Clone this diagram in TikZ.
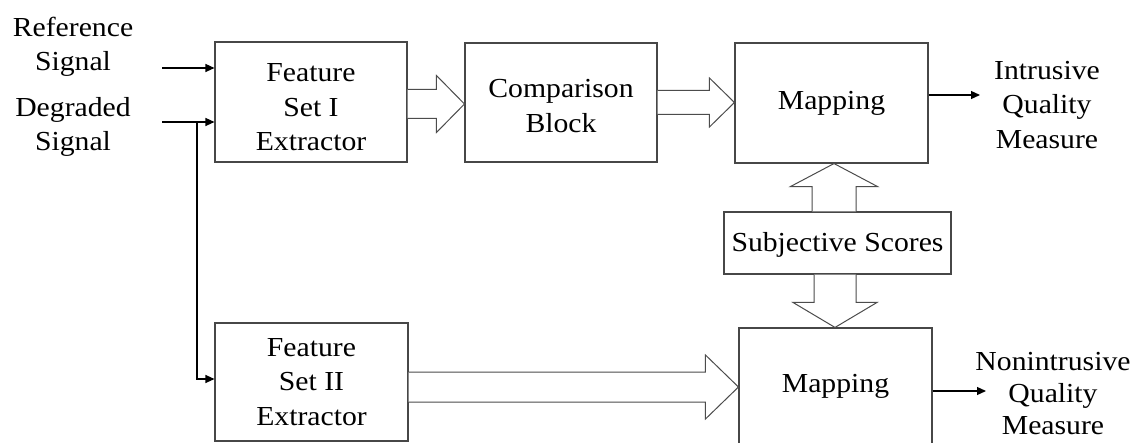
\documentclass[tikz,border=0pt]{standalone}
\usepackage{fontspec}
\setmainfont{Liberation Serif}[FakeStretch=1.08]
\usetikzlibrary{calc,arrows.meta}
\newcommand\fs{\fontsize{27.5}{34.5}\selectfont}
% horizontal block arrow: #1 start, #2 tip, #3 shaft half, #4 head half, #5 head length
\newcommand\harrow[5]{\draw[fat] ($(#1)+(0,-#3)$) -- ($(#2)+(-#5,-#3)$) -- ($(#2)+(-#5,-#4)$) -- (#2) -- ($(#2)+(-#5,#4)$) -- ($(#2)+(-#5,#3)$) -- ($(#1)+(0,#3)$);}
% vertical block arrow: #5 signed offset of head base from tip
\newcommand\varrow[5]{\draw[fat] ($(#1)+(-#3,0)$) -- ($(#2)+(-#3,#5)$) -- ($(#2)+(-#4,#5)$) -- (#2) -- ($(#2)+(#4,#5)$) -- ($(#2)+(#3,#5)$) -- ($(#1)+(#3,0)$);}
\begin{document}
\begin{tikzpicture}[x=1pt,y=-1pt,
  box/.style={draw=black!72, line width=1.1pt, rectangle, inner sep=0pt, align=center, font=\fs},
  lbl/.style={align=center, font=\fs, inner sep=0pt},
  sig/.style={line width=1.2pt, -{Triangle[length=9pt,width=8pt]}},
  fat/.style={draw=black!70, line width=1pt, fill=white, line join=miter}]
\useasboundingbox (0,0) rectangle (1142,443);
\fill[white] (0,0) rectangle (1142,443);
% boxes
\node[box, minimum width=192pt, minimum height=120pt] (fs1) at (311,102) {\rule{0pt}{29pt}Feature\\Set I\\Extractor};
\node[box, minimum width=192pt, minimum height=119pt] (comp) at (561,102.5) {\rule{0pt}{25pt}Comparison\\Block};
\node[box, minimum width=193pt, minimum height=120pt] (map1) at (831.5,103) {Mapping};
\node[box, minimum width=227pt, minimum height=62pt] (subj) at (837.5,243) {\rule{0pt}{22pt}Subjective Scores};
\node[box, minimum width=193pt, minimum height=118pt] (fs2) at (311.5,382) {Feature\\Set II\\Extractor};
\node[box, minimum width=193pt, minimum height=122pt, text depth=12pt] (map2) at (835.5,389) {Mapping};
% labels
\node[lbl] (ref) at (73,47) {Reference\\Signal};
\node[lbl] (deg) at (73,127) {Degraded\\Signal};
\node[lbl] (intr) at (1047,105) {Intrusive\\Quality\\Measure};
\node[lbl, font=\fontsize{27.5}{32}\selectfont] (nonint) at (1053,393.5) {Nonintrusive\\Quality\\Measure};
% block arrows
\coordinate (a1s) at ($(fs1.east)+(0,2)$);
\coordinate (a1t) at (comp.west |- a1s);
\harrow{a1s}{a1t}{14.5}{28.5}{28}
\coordinate (a2s) at (comp.east);
\coordinate (a2t) at (map1.west |- a2s);
\harrow{a2s}{a2t}{12}{24.5}{25}
\coordinate (a3s) at ($(fs2.east)+(0,5)$);
\coordinate (a3t) at (map2.west |- a3s);
\harrow{a3s}{a3t}{15}{32}{33}
\coordinate (a4s) at ($(subj.north)+(-3.5,0)$);
\coordinate (a4t) at (a4s |- map1.south);
\varrow{a4s}{a4t}{22}{43.5}{23}
\coordinate (a5s) at ($(subj.south)+(-2.5,0)$);
\coordinate (a5t) at (a5s |- map2.north);
\varrow{a5s}{a5t}{21}{42}{-25}
% signal arrows
\coordinate (r0) at (162,68);
\draw[sig] (r0) -- (r0 -| fs1.west);
\coordinate (d0) at (162,122);
\draw[sig] (d0) -- (d0 -| fs1.west);
\coordinate (br) at (197,122);
\coordinate (f2in) at ($(fs2.west)+(0,-3)$);
\draw[sig] (br) |- (f2in);
\coordinate (o1) at (980,95);
\draw[sig] (map1.east |- o1) -- (o1);
\coordinate (o2) at (986,391);
\draw[sig] (map2.east |- o2) -- (o2);
\end{tikzpicture}
\end{document}
